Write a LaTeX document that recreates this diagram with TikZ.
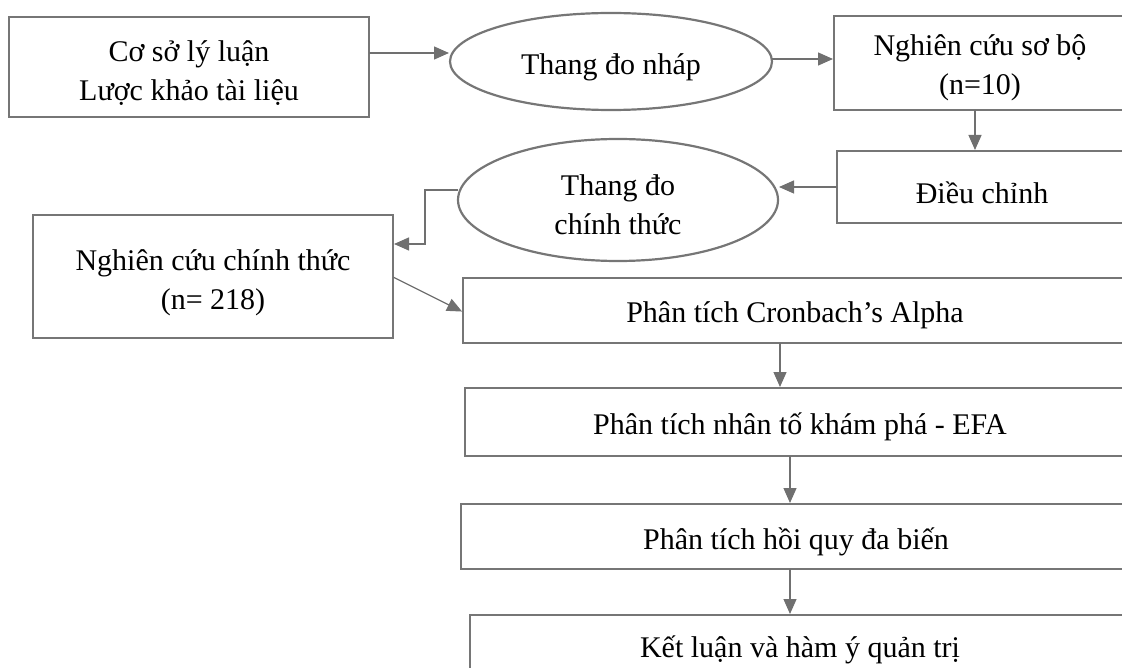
\documentclass[tikz,border=0pt]{standalone}
\usepackage{fontspec}
\setmainfont{Liberation Serif}
\usetikzlibrary{shapes.geometric,arrows.meta}
\definecolor{bordc}{RGB}{118,118,118}
\definecolor{arrc}{RGB}{112,112,112}
\tikzset{
  box/.style={draw=bordc, line width=2.2pt, rectangle, inner sep=0pt, outer sep=0pt},
  ell/.style={draw=bordc, line width=2.2pt, ellipse, inner sep=0pt, outer sep=0pt},
  txt/.style={inner sep=0pt, align=center, font=\fontsize{30}{39}\selectfont},
  arr/.style={draw=arrc, line width=1.3pt, -{Triangle[length=15pt,width=13pt]}, shorten >=1pt}
}
\begin{document}
\begin{tikzpicture}[x=1pt,y=-1pt]
\useasboundingbox (0,0) rectangle (1122,668);
\clip (0,0) rectangle (1122,668);
% shapes
\node[box, minimum width=360, minimum height=100] (b1) at (189,67) {};
\node[ell, minimum width=322, minimum height=97] (e1) at (611,61.5) {};
\node[box, minimum width=292, minimum height=94] (b2) at (980,63) {};
\node[box, minimum width=290, minimum height=72] (b3) at (982,187) {};
\node[ell, minimum width=320, minimum height=122] (e2) at (618,200) {};
\node[box, minimum width=360, minimum height=123] (b4) at (213,276.5) {};
\node[box, minimum width=664, minimum height=65] (b5) at (795,310.5) {};
\node[box, minimum width=670, minimum height=68] (b6) at (800,422) {};
\node[box, minimum width=670, minimum height=65] (b7) at (796,536.5) {};
\node[box, minimum width=660, minimum height=75] (b8) at (800,652.5) {};
% texts
\node[txt] (t1) at ([yshift=-6pt]b1.center) {Cơ sở lý luận\\Lược khảo tài liệu};
\node[txt] (t2) at ([yshift=-6pt]e1.center) {Thang đo nháp};
\node[txt] (t3) at ([yshift=-5pt]b2.center) {Nghiên cứu sơ bộ\\(n=10)};
\node[txt] (t4) at ([yshift=-6pt]b3.center) {Điều chỉnh};
\node[txt] (t5) at ([yshift=-5pt]e2.center) {Thang đo\\chính thức};
\node[txt] (t6) at ([yshift=-6pt]b4.center) {Nghiên cứu chính thức\\(n= 218)};
\node[txt] (t7) at ([yshift=-5pt]b5.center) {Phân tích Cronbach’s Alpha};
\node[txt] (t8) at ([yshift=-5pt]b6.center) {Phân tích nhân tố khám phá - EFA};
\node[txt] (t9) at ([yshift=-5pt]b7.center) {Phân tích hồi quy đa biến};
\node[txt] (t10) at ([yshift=3pt]b8.center) {Kết luận và hàm ý quản trị};
% helper coordinates
\coordinate (y53) at (0,53);
\coordinate (y59) at (0,59);
\coordinate (y190) at (0,190);
\coordinate (y244) at (0,244);
\coordinate (y277) at (0,277);
\coordinate (y312) at (0,312);
\coordinate (x975) at (975,0);
\coordinate (x780) at (780,0);
\coordinate (x790) at (790,0);
% connectors
\draw[arr] (b1.east |- y53) -- (e1.west |- y53);
\draw[arr] (e1.east |- y59) -- (b2.west |- y59);
\draw[arr] (b2.south -| x975) -- (b3.north -| x975);
\draw[arr] (b3.west) -- (b3.west -| e2.east);
\draw[arr] (e2.west |- y190) -- ++(-33,0) |- (b4.east |- y244);
\draw[arr] (b4.east |- y277) -- (b5.west |- y312);
\draw[arr] (b5.south -| x780) -- (b6.north -| x780);
\draw[arr] (b6.south -| x790) -- (b7.north -| x790);
\draw[arr] (b7.south -| x790) -- (b8.north -| x790);
\end{tikzpicture}
\end{document}
